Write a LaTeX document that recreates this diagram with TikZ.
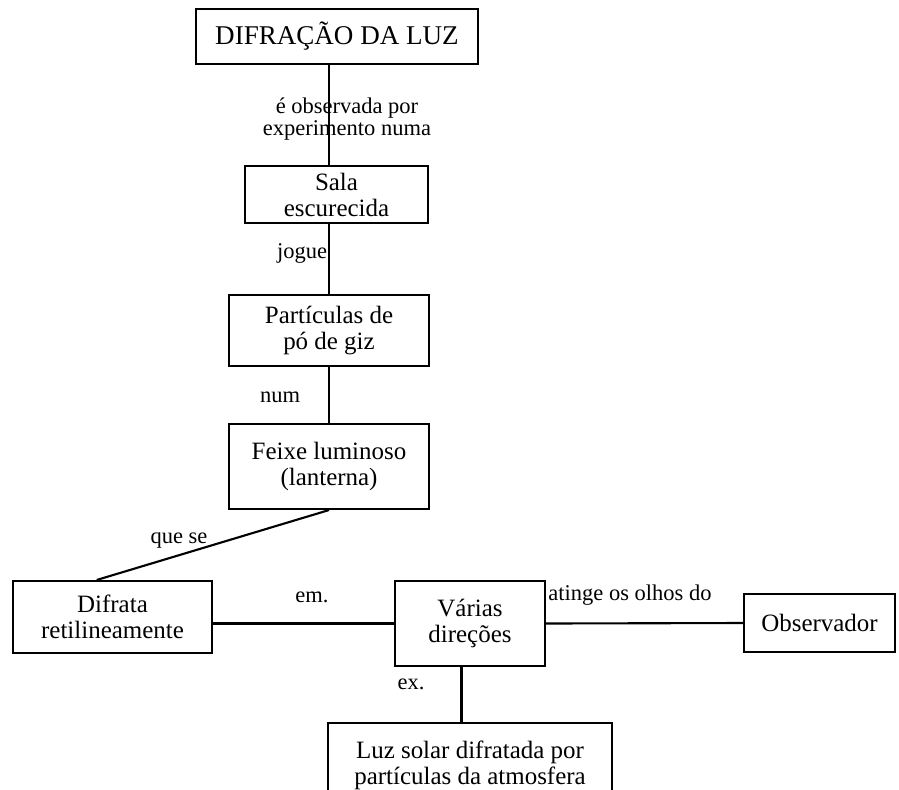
\documentclass[tikz,border=0pt]{standalone}
\usepackage{fontspec}
\setmainfont{Liberation Serif}
\usepackage{tikz}

\begin{document}
\begin{tikzpicture}
  [cbox/.style={draw, line width=1.2pt, inner sep=0, align=center,
                font=\fontsize{14.2}{14.8}\selectfont},
   lnode/.style={inner sep=0, align=center, font=\fontsize{12.8}{12.5}\selectfont},
   link/.style={line width=1.2pt}]

  % page frame
  \clip (0, 0) rectangle (17.98, -15.78);

  % concept boxes
  \node[cbox, minimum width=5.64cm, minimum height=1.10cm,
        font=\fontsize{15.4}{16}\selectfont] (dif) at (6.74, -0.73) {DIFRAÇÃO DA LUZ};
  \node[cbox, minimum width=3.66cm, minimum height=1.14cm] (sala) at (6.73, -3.89) {Sala\\escurecida};
  \node[cbox, minimum width=4.00cm, minimum height=1.42cm] (part) at (6.58, -6.61) {Partículas de\\pó de giz};
  \node[cbox, minimum width=4.00cm, minimum height=1.70cm] (feixe) at (6.58, -9.33) {Feixe luminoso\\(lanterna)};
  \node[cbox, minimum width=3.98cm, minimum height=1.44cm] (difrata) at (2.25, -12.34) {Difrata\\retilineamente};
  \node[cbox, minimum width=3.00cm, minimum height=1.70cm] (varias) at (9.40, -12.47) {Várias\\direções};
  \node[cbox, minimum width=3.02cm, minimum height=1.16cm] (obs) at (16.39, -12.46) {Observador};
  \node[cbox, minimum width=5.68cm, minimum height=1.70cm] (luz) at (9.40, -15.31)
    {Luz solar difratada por\\partículas da atmosfera};

  % links
  \draw[link] (dif.south -| part.north) -- (sala.north -| part.north);
  \draw[link] (sala.south -| part.north) -- (part.north);
  \draw[link] (part.south) -- (feixe.north);
  \draw[link] (feixe.south) -- (difrata.113);
  \draw[link] (difrata.east |- varias.west) -- (varias.west);
  \draw[link] (varias.east) -- (obs.west);
  \draw[link] (varias.259) -- (varias.259 |- luz.north);

  % link labels
  \node[lnode] (lobs) at (6.94, -2.38) {é observada por\\experimento numa};
  \node[lnode] (ljogue) at (6.04, -5.06) {jogue};
  \node[lnode] (lnum) at (5.60, -7.94) {num};
  \node[lnode] (lque) at (3.58, -10.80) {que se};
  \node[lnode] (lem) at (6.24, -11.94) {em.};
  \node[lnode] (latinge) at (12.60, -11.90) {atinge os olhos do};
  \node[lnode] (lex) at (8.22, -13.68) {ex.};

\end{tikzpicture}
\end{document}
